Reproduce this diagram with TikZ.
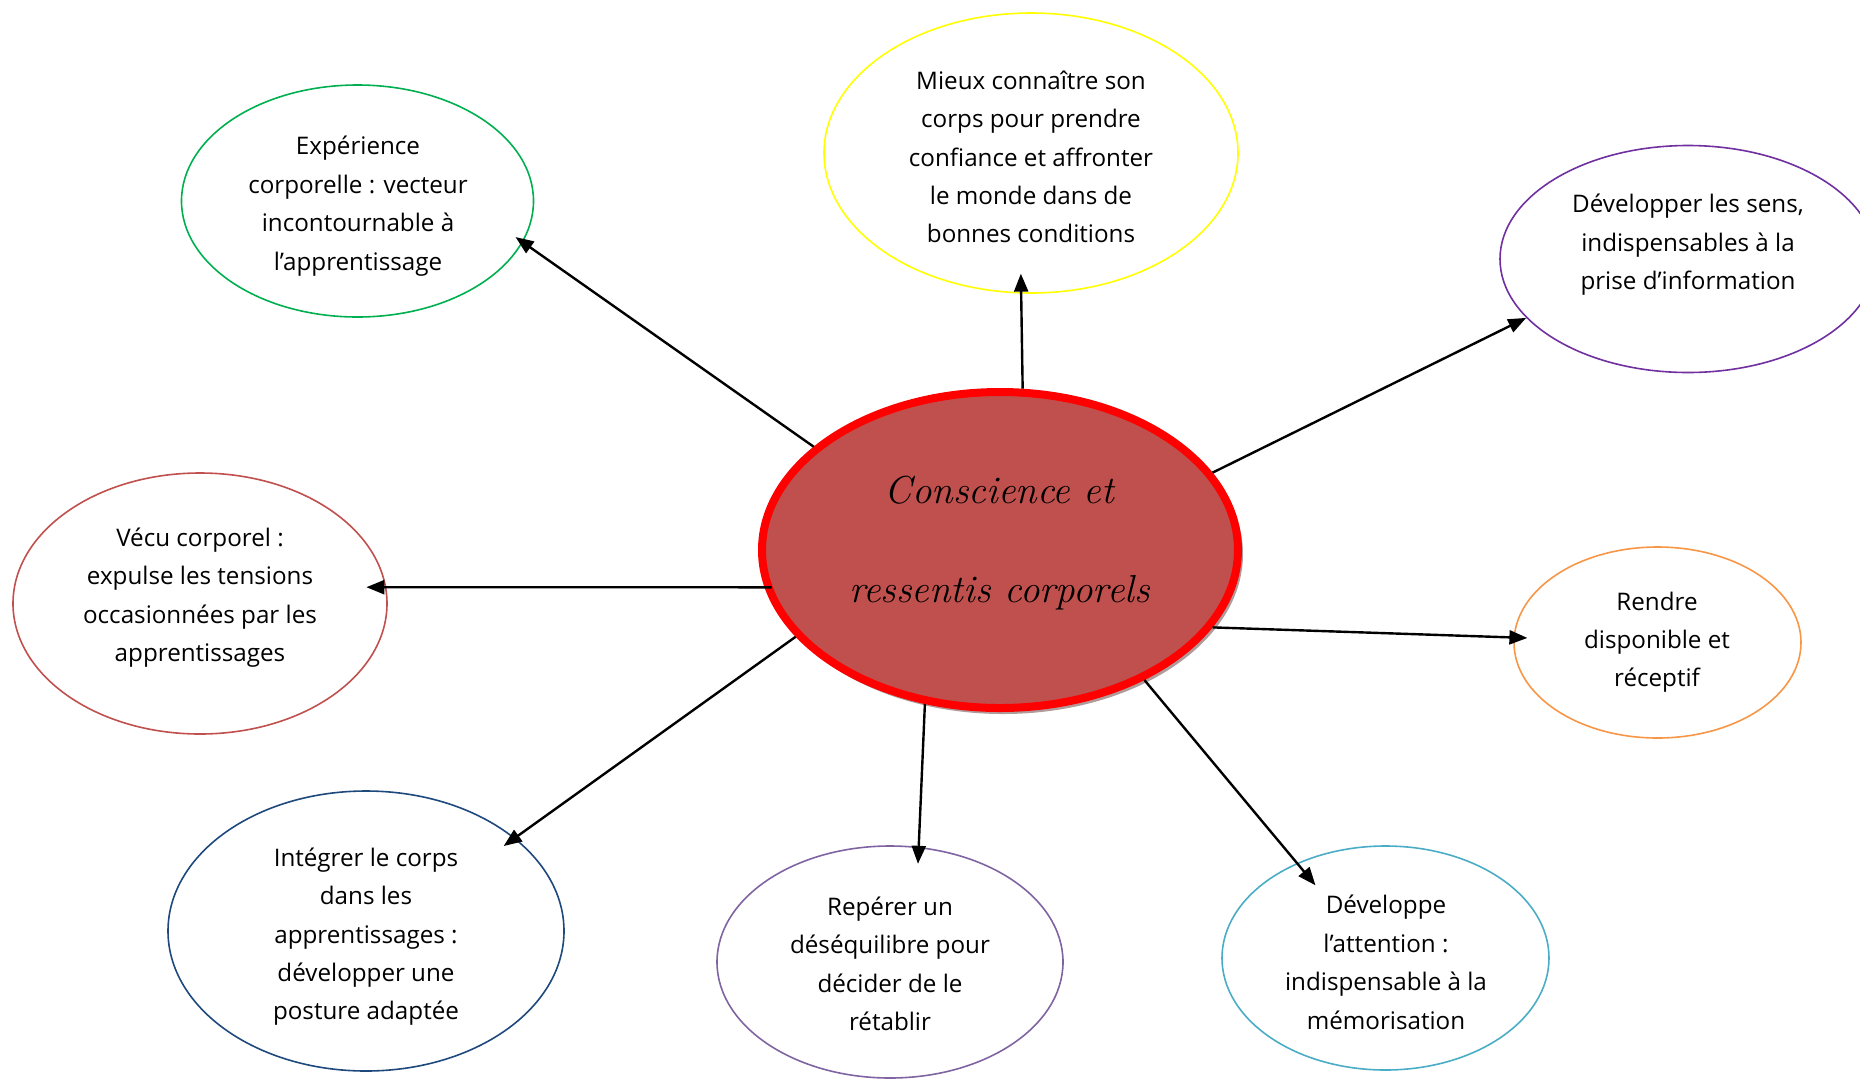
\documentclass[tikz,border=0pt]{standalone}
\usepackage{fontspec}
\setmainfont{Open Sans}
\usetikzlibrary{shapes.geometric,arrows.meta}
\definecolor{cgreen}{HTML}{00B050}
\definecolor{cyellow}{HTML}{FFFF00}
\definecolor{cpurple}{HTML}{7030A0}
\definecolor{cbrick}{HTML}{C0504D}
\definecolor{corange}{HTML}{F79646}
\definecolor{cnavy}{HTML}{1F497D}
\definecolor{clilac}{HTML}{8064A2}
\definecolor{cteal}{HTML}{4BACC6}
\definecolor{cshadow}{HTML}{B09A9A}
\newcommand\cursivetitle{\fontfamily{lmr}\fontshape{it}\selectfont}
\begin{document}
\begin{tikzpicture}[x=0.5pt,y=-0.5pt,
  bubble/.style={ellipse, draw, line width=0.8pt, inner sep=0pt},
  lbl/.style={font=\fontsize{12.1}{19.2}\selectfont, align=center, inner sep=0pt,
    execute at begin node=\strut, execute at end node=\strut},
  arr/.style={-{Triangle[length=9pt,width=7pt]}, line width=1.2pt}]
\useasboundingbox (0,0) rectangle (1860,1078);
\clip (0,0) rectangle (1860,1078);
% outer bubbles
\node[bubble, draw=cgreen, minimum width=176pt, minimum height=116pt] (g) at (357.5,201) {};
\node[bubble, draw=cyellow, minimum width=207pt, minimum height=140pt] (y) at (1031,153) {};
\node[bubble, draw=cpurple, minimum width=188pt, minimum height=113.5pt] (p) at (1688,259) {};
\node[bubble, draw=cbrick, minimum width=187pt, minimum height=130.5pt] (v) at (200,603.5) {};
\node[bubble, draw=corange, minimum width=143.5pt, minimum height=95.5pt] (r) at (1657.5,642.5) {};
\node[bubble, draw=cnavy, minimum width=198pt, minimum height=140pt] (i) at (366,931) {};
\node[bubble, draw=clilac, minimum width=173pt, minimum height=116pt] (e) at (890,962) {};
\node[bubble, draw=cteal, minimum width=163.5pt, minimum height=112pt] (d) at (1385.5,958) {};
% central bubble
\node[ellipse, fill=cshadow, minimum width=240pt, minimum height=160pt, inner sep=0pt] (cs) at (1003,554) {};
\node[ellipse, fill=cbrick, draw=red, line width=4pt, minimum width=238pt, minimum height=158pt, inner sep=0pt] (c) at (1000,550) {};
% labels
\node[lbl] (tg) at (358,209) {Expérience\\corporelle : vecteur\\incontournable à\\l’apprentissage};
\node[lbl] (ty) at (1031,162.5) {Mieux connaître son\\corps pour prendre\\confiance et affronter\\le monde dans de\\bonnes conditions};
\node[lbl] (tp) at (1688,247.5) {Développer les sens,\\indispensables à la\\prise d’information};
\node[lbl] (tv) at (200,600.5) {Vécu corporel :\\expulse les tensions\\occasionnées par les\\apprentissages};
\node[lbl] (tr) at (1657,645) {Rendre\\disponible et\\réceptif};
\node[lbl] (ti) at (366,939.5) {Intégrer le corps\\dans les\\apprentissages :\\développer une\\posture adaptée};
\node[lbl] (te) at (890,969.5) {Repérer un\\déséquilibre pour\\décider de le\\rétablir};
\node[lbl] (td) at (1386,968) {Développe\\l’attention :\\indispensable à la\\mémorisation};
\node[font={\cursivetitle\fontsize{19.5}{49.5}\selectfont}, align=center, inner sep=0pt,
  execute at begin node=\strut, execute at end node=\strut] (tc) at (999.5,554) {Conscience et\\ressentis corporels};
% connectors
\draw[arr, shorten >=-4.5pt] (c.151) -- (g.-14);
\draw[arr, shorten >=-10pt] (c.82.7) -- (y.-94.5);
\draw[arr] (c.20.2) -- (p.200.2);
\draw[arr, shorten <=-3.5pt, shorten >=-10pt] (c.189.9) -- (v.5.1);
\draw[arr, shorten >=-7pt] (c.-20.1) -- (r.178.9);
\draw[arr, shorten >=-7pt] (c.203.9) -- (i.32.5);
\draw[arr, shorten >=-8.5pt] (c.244.6) -- (e.76.5);
\draw[arr, shorten >=-14.5pt] (c.-42.5) -- (d.133.6);
\end{tikzpicture}
\end{document}
